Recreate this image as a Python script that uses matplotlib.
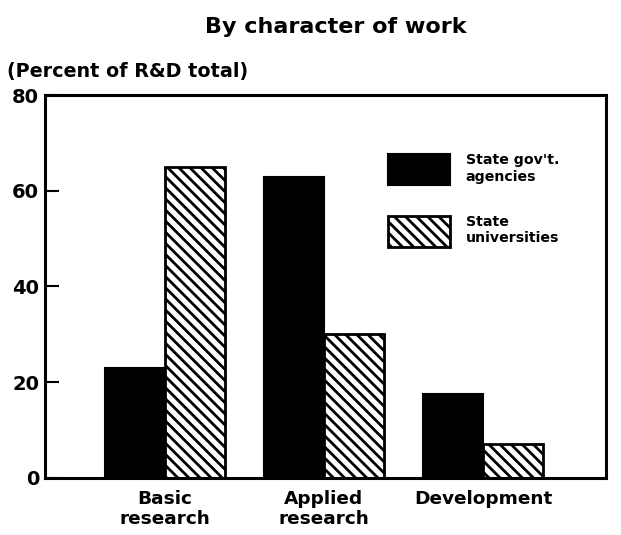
"""
plot.py
-------
Share of state R&D by character of work (grouped bars).
"""

import numpy as np
import matplotlib
matplotlib.use("Agg")
import matplotlib.pyplot as plt

categories = ["Basic\nresearch", "Applied\nresearch", "Development"]
gov_agencies = [23, 63, 17.5]
universities = [65, 30, 7]
series_labels = ["State gov't.\nagencies", "State\nuniversities"]
y_ticks = [0, 20, 40, 60, 80]

plt.rcParams["font.family"] = ["DejaVu Sans"]
plt.rcParams["font.weight"] = "bold"
plt.rcParams["hatch.linewidth"] = 2.0

fig = plt.figure(figsize=(6.21, 5.35), dpi=100)
ax = fig.add_axes([0.072, 0.107, 0.904, 0.715])

x = np.arange(len(categories))
width = 0.377
ax.bar(x - width / 2, gov_agencies, width, color="black", edgecolor="black",
       linewidth=1.5, label=series_labels[0])
ax.bar(x + width / 2, universities, width, color="white", edgecolor="black",
       hatch="\\\\\\", linewidth=2, label=series_labels[1])

ax.set_xlim(-0.755, 2.774)
ax.set_ylim(0, 80)
ax.set_yticks(y_ticks)
ax.set_yticklabels([str(t) for t in y_ticks], fontsize=14, fontweight="bold")
ax.tick_params(axis="y", direction="in", length=10, width=1.5, pad=4)
ax.set_xticks(x)
ax.set_xticklabels(categories, fontsize=13.3, fontweight="bold", va="top",
                   linespacing=1.15)
ax.tick_params(axis="x", length=0, pad=9)
for side in ["left", "right", "top", "bottom"]:
    ax.spines[side].set_linewidth(2.2)

fig.text(0.54, 0.95, "By character of work", ha="center", va="center",
         fontsize=16, fontweight="bold")
fig.text(0.012, 0.866, "(Percent of R&D total)", ha="left", va="center",
         fontsize=13.8, fontweight="bold")

ax.legend(loc="upper left", bbox_to_anchor=(0.611, 0.848), frameon=False,
          prop={"size": 10.2, "weight": "bold"}, handlelength=4.4,
          handleheight=3.0, labelspacing=2.1, handletextpad=1.1,
          borderpad=0, borderaxespad=0)

plt.savefig("out.png", dpi=100)
plt.close()
